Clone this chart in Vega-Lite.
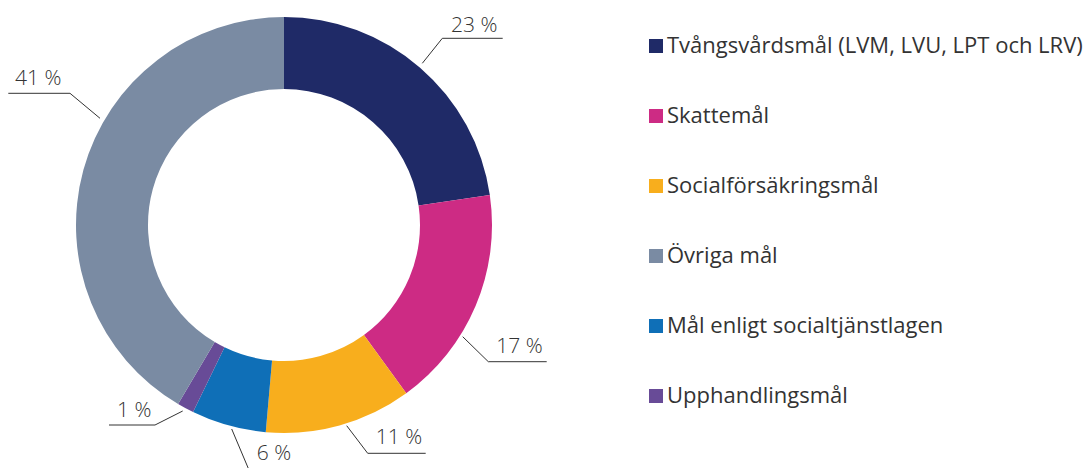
{
  "$schema": "https://vega.github.io/schema/vega-lite/v6.json",
  "width": 568,
  "height": 450,
  "autosize": {"type": "none"},
  "padding": {"left": 0, "top": 0, "right": 515, "bottom": 18},
  "background": "white",
  "config": {"view": {"stroke": null}, "font": "Open Sans"},
  "datasets": {
    "shares": [
      {"mal": "Tvångsvårdsmål (LVM, LVU, LPT och LRV)", "andel": 22.7, "nr": 1},
      {"mal": "Skattemål", "andel": 17.3, "nr": 2},
      {"mal": "Socialförsäkringsmål", "andel": 11.4, "nr": 3},
      {"mal": "Mål enligt socialtjänstlagen", "andel": 5.8, "nr": 4},
      {"mal": "Upphandlingsmål", "andel": 1.3, "nr": 5},
      {"mal": "Övriga mål", "andel": 41.5, "nr": 6}
    ],
    "leaders": [
      {"mal": "Tvång", "i": 1, "x": 138.3, "y": 161.7},
      {"mal": "Tvång", "i": 2, "x": 158.3, "y": 186.7},
      {"mal": "Tvång", "i": 3, "x": 218.7, "y": 186.7},
      {"mal": "Skatt", "i": 1, "x": 178.7, "y": -111.7},
      {"mal": "Skatt", "i": 2, "x": 204.3, "y": -136.7},
      {"mal": "Skatt", "i": 3, "x": 262.7, "y": -136.7},
      {"mal": "Social", "i": 1, "x": 62.7, "y": -200.7},
      {"mal": "Social", "i": 2, "x": 83.7, "y": -228.3},
      {"mal": "Social", "i": 3, "x": 141.7, "y": -228.3},
      {"mal": "SoL", "i": 1, "x": -52.3, "y": -204},
      {"mal": "SoL", "i": 2, "x": -35, "y": -245},
      {"mal": "SoL", "i": 3, "x": 26, "y": -245},
      {"mal": "Upph", "i": 1, "x": -101.3, "y": -186},
      {"mal": "Upph", "i": 2, "x": -129, "y": -200},
      {"mal": "Upph", "i": 3, "x": -175, "y": -200},
      {"mal": "Övr", "i": 1, "x": -184, "y": 106.7},
      {"mal": "Övr", "i": 2, "x": -214, "y": 131.7},
      {"mal": "Övr", "i": 3, "x": -275.7, "y": 131.7}
    ],
    "labels": [
      {"mal": "Tvång", "label": "23 %", "x": 190.2, "y": 193.3},
      {"mal": "Skatt", "label": "17 %", "x": 235.5, "y": -128.3},
      {"mal": "Social", "label": "11 %", "x": 114.9, "y": -219.3},
      {"mal": "SoL", "label": "6 %", "x": -10.1, "y": -235},
      {"mal": "Upph", "label": "1 %", "x": -149.8, "y": -192.3},
      {"mal": "Övr", "label": "41 %", "x": -245.7, "y": 140}
    ]
  },
  "layer": [
    {
      "data": {"name": "shares"},
      "mark": {"type": "arc", "outerRadius": 208, "innerRadius": 136},
      "encoding": {
        "theta": {"field": "andel", "type": "quantitative", "stack": true},
        "order": {"field": "nr", "type": "quantitative"},
        "color": {
          "field": "mal",
          "type": "nominal",
          "scale": {
            "domain": ["Tvångsvårdsmål (LVM, LVU, LPT och LRV)", "Skattemål", "Socialförsäkringsmål", "Övriga mål", "Mål enligt socialtjänstlagen", "Upphandlingsmål"],
            "range": ["#1f2a67", "#cd2b84", "#f8ae1d", "#7a8ba3", "#0f6fb7", "#684b97"]
          },
          "legend": {
            "orient": "none",
            "legendX": 645,
            "legendY": 35,
            "title": null,
            "padding": 0,
            "symbolType": "square",
            "symbolSize": 196,
            "symbolStrokeWidth": 0,
            "symbolOpacity": 1,
            "labelFont": "Open Sans",
            "labelFontSize": 22,
            "labelFontWeight": 400,
            "labelColor": "#333333",
            "labelOffset": 0,
            "labelLimit": 600,
            "rowPadding": 48
          }
        }
      }
    },
    {
      "data": {"name": "leaders"},
      "mark": {"type": "line", "stroke": "#333333", "strokeWidth": 1},
      "encoding": {
        "x": {"field": "x", "type": "quantitative", "scale": {"domain": [-284, 284], "nice": false, "zero": false}, "axis": null},
        "y": {"field": "y", "type": "quantitative", "scale": {"domain": [-225, 225], "nice": false, "zero": false}, "axis": null},
        "detail": {"field": "mal", "type": "nominal"},
        "order": {"field": "i", "type": "quantitative"}
      }
    },
    {
      "data": {"name": "labels"},
      "mark": {"type": "text", "font": "Open Sans", "fontSize": 21, "fontWeight": 300, "color": "#333333", "align": "center", "baseline": "alphabetic"},
      "encoding": {
        "x": {"field": "x", "type": "quantitative"},
        "y": {"field": "y", "type": "quantitative"},
        "text": {"field": "label", "type": "nominal"}
      }
    }
  ]
}
